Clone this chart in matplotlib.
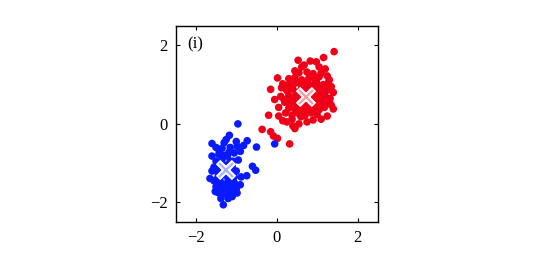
import matplotlib
matplotlib.use("Agg")
import matplotlib.pyplot as plt

# red cluster
red_x = [1.42, 1.16, 0.98, 0.83, 0.53, 0.62, 0.45, 0.68, 1.05, 1.20, 0.02, -0.15, 0.12, -0.05,
         -0.20, 0.05, -0.36, -0.08, 0.02, 0.32, -0.15, 0.15, 0.25, 0.40, 0.45, 0.55, 1.40, 1.35,
         1.25, 1.10, 0.90, 0.75,
         0.55, 0.75, 0.90, 1.10, 1.25,
         0.30, 0.45, 0.62, 0.80, 0.95, 1.05, 1.30,
         0.15, 0.35, 0.50, 0.70, 0.85, 1.00, 1.15, 1.35,
         0.25, 0.40, 0.55, 0.68, 0.82, 0.95, 1.10, 1.25, 1.40,
         0.10, 0.30, 0.45, 0.60, 0.78, 0.92, 1.05, 1.20, 1.32,
         0.20, 0.35, 0.50, 0.65, 0.80, 0.95, 1.10, 1.25,
         0.05, 0.30, 0.45, 0.60, 0.75, 0.90, 1.05, 1.18,
         0.22, 0.38, 0.55, 0.70, 0.85, 1.00,
         0.62, 0.88, 1.15, 0.40, 0.72, 1.02, 0.52, 0.85, 1.18, 0.33, 0.66, 0.98, 1.28,
         0.58, 0.76, 1.12, 0.48, 0.92, 0.28, 1.22, 0.70, 0.38,
         0.98, 1.08, 0.86, 1.16, 0.64, 0.52, 0.42, 0.74, 1.30, 0.18, 0.60, 0.94]
red_y = [1.84, 1.69, 1.58, 1.60, 1.62, 1.45, 1.35, 1.50, 1.45, 1.40, 1.17, 0.88, 0.92, 0.62,
         0.22, 0.20, -0.14, -0.31, -0.37, -0.51, -0.20, 0.08, 0.05, -0.05, -0.12, 0.00, 0.38, 0.48,
         0.20, 0.12, 0.10, 0.05,
         1.30, 1.32, 1.28, 1.30, 1.22,
         1.15, 1.18, 1.12, 1.17, 1.10, 1.20, 1.12,
         1.02, 0.98, 1.05, 1.00, 0.97, 1.02, 1.00, 0.95,
         0.85, 0.88, 0.82, 0.86, 0.84, 0.88, 0.82, 0.86, 0.80,
         0.70, 0.72, 0.68, 0.70, 0.72, 0.68, 0.72, 0.70, 0.65,
         0.55, 0.58, 0.52, 0.57, 0.55, 0.52, 0.57, 0.52,
         0.42, 0.40, 0.38, 0.42, 0.38, 0.40, 0.36, 0.42,
         0.28, 0.22, 0.26, 0.22, 0.28, 0.24,
         0.95, 0.78, 0.62, 0.62, 0.48, 0.45, 0.30, 0.30, 0.90, 0.48, 0.88, 1.12, 1.05,
         0.65, 1.08, 0.75, 0.75, 0.58, 0.98, 0.95, 0.40, 0.12,
         0.62, 0.92, 0.68, 0.78, 0.35, 0.72, 1.02, 0.88, 0.58, 0.62, 0.18, 1.20]

# blue cluster
blue_x = [-0.96, -1.17, -1.60, -1.30, -1.00, -0.73, -0.50, -0.05, -1.50, -1.35, -1.15, -0.98,
          -0.90, -1.60, -1.43, -1.22, -1.05, -1.50, -1.35, -1.15, -0.95, -1.55, -1.40, -1.10,
          -0.60, -0.52, -0.74, -1.65, -1.45, -1.30, -1.15, -1.00, -0.88, -1.55, -1.40, -1.20,
          -1.05, -0.90, -1.50, -1.35, -1.15, -1.00, -1.45, -1.30, -1.15, -0.98, -1.38, -1.20,
          -1.32, -1.10, -1.60, -1.25, -1.45, -1.05, -1.50, -1.28, -1.22, -1.38, -1.08, -1.52,
          -1.42, -1.18, -1.25, -0.82, -1.12, -1.30, -1.48, -1.20, -1.42, -1.10]
blue_y = [0.00, -0.29, -0.50, -0.48, -0.45, -0.43, -0.59, -0.51, -0.60, -0.62, -0.60, -0.57,
          -0.70, -0.82, -0.78, -0.82, -0.74, -0.95, -0.90, -0.95, -0.92, -1.10, -1.05, -1.08,
          -1.08, -1.18, -1.32, -1.39, -1.25, -1.30, -1.25, -1.20, -1.35, -1.45, -1.45, -1.42,
          -1.50, -1.55, -1.60, -1.62, -1.60, -1.65, -1.75, -1.78, -1.75, -1.76, -1.90, -1.90,
          -2.06, -1.85, -1.20, -1.05, -1.35, -1.35, -1.15, -1.55, -1.70, -1.15, -0.95, -1.72,
          -0.70, -0.72, -0.40, -0.55, -1.40, -0.80, -1.50, -1.48, -1.62, -1.68]

# cluster centres
centre_x = [0.72, -1.26]
centre_y = [0.68, -1.18]
colours = ["#f00018", "#0a1aff"]
cross_inner = ["#ff9aa0", "#a8b0ff"]

plt.rcParams["font.family"] = ["Liberation Serif", "DejaVu Serif"]

fig = plt.figure(figsize=(5.42, 2.65), dpi=100)
ax = fig.add_axes([0.324, 0.162, 0.373, 0.741])

ax.scatter(red_x, red_y, s=30, color=colours[0], edgecolors="none")
ax.scatter(blue_x, blue_y, s=30, color=colours[1], edgecolors="none")

for cx, cy, inner in zip(centre_x, centre_y, cross_inner):
    ax.plot(cx, cy, marker="x", markersize=11, mew=4.5, color="white")
    ax.plot(cx, cy, marker="x", markersize=10, mew=1.6, color=inner)

ax.text(-2.2, 2.02, "(i)", fontsize=12, ha="left", va="center")

ax.set_xlim(-2.5, 2.5)
ax.set_ylim(-2.5, 2.5)
ax.set_xticks([-2, 0, 2])
ax.set_yticks([-2, 0, 2])
ax.set_xticklabels(["\u22122", "0", "2"])
ax.set_yticklabels(["\u22122", "0", "2"])
ax.tick_params(direction="in", top=True, right=True, length=3, width=0.8,
               labelsize=12, pad=6)
for sp in ax.spines.values():
    sp.set_linewidth(1.0)

fig.savefig("out.png", dpi=100)
